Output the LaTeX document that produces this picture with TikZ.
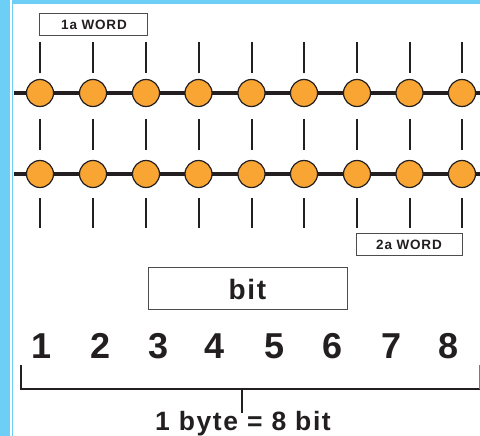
\documentclass[tikz,border=0pt]{standalone}
\usepackage{fontspec}
\setmainfont{Liberation Sans}
\newfontfamily\labfont[LetterSpace=6]{Liberation Sans}
\definecolor{skyb}{HTML}{6DCFF6}
\definecolor{orng}{HTML}{F9A533}
\definecolor{ink}{HTML}{231F20}
\begin{document}
\begin{tikzpicture}[x=1pt,y=-1pt,
  bead/.style={circle,draw=ink,line width=1.2pt,fill=orng,minimum size=27pt,inner sep=0pt},
  wire/.style={draw=ink,line width=3.2pt},
  tick/.style={draw=ink,line width=2pt},
  labbox/.style={draw=ink!80,line width=1pt,fill=white,inner sep=0pt},
  lab/.style={font=\labfont\bfseries\fontsize{13.5}{13.5}\selectfont,text=ink,anchor=base},
  digit/.style={font=\bfseries\fontsize{36}{36}\selectfont,text=ink,anchor=base}]
\useasboundingbox (0,0) rectangle (480,436);
\fill[white] (0,0) rectangle (480,436);
% frame
\fill[skyb] (0,0) rectangle (10,436);
\fill[skyb] (11.8,0) rectangle (12.8,436);
\fill[skyb] (13,0) rectangle (480,3.6);
% rows
\coordinate (L1) at (14,93);
\coordinate (R1) at (480,93);
\coordinate (L2) at (14,174);
\coordinate (R2) at (480,174);
\draw[wire] (L1) -- (R1);
\draw[wire] (L2) -- (R2);
\foreach \i/\x in {1/40,2/93,3/146,4/198.5,5/251.5,6/304,7/357,8/409.5,9/462}{
  \node[bead] (a\i) at (\x,93) {};
  \node[bead] (b\i) at (\x,174) {};
  \draw[tick] (\x,42) -- (\x,73);
  \draw[tick] (\x,119) -- (\x,150);
  \draw[tick] (\x,198) -- (\x,228);
}
% word boxes
\node[labbox,minimum width=108pt,minimum height=22pt] (w1) at (93,25) {};
\node[lab] (w1t) at (94,30) {1a WORD};
\node[labbox,minimum width=106pt,minimum height=22pt] (w2) at (409,244) {};
\node[lab] (w2t) at (409,249) {2a WORD};
% bit box
\node[labbox,minimum width=199pt,minimum height=42pt] (bb) at (247.5,288) {};
\node[font=\labfont\bfseries\fontsize{28}{28}\selectfont,text=ink,anchor=base] (bt) at (247.5,299) {bit};
% digits
\foreach \i/\x in {1/42,2/101,3/159,4/215,5/275,6/333,7/392,8/449}{
  \node[digit] (d\i) at (\x,358) {\i};
}
% bracket
\coordinate (bl) at (20.5,365);
\coordinate (brc) at (480,389);
\coordinate (br) at (479.3,365);
\coordinate (bm) at (242,389);
\coordinate (bmt) at (242,413);
\draw[ink,line width=2pt] (bl) -- (20.5,390.2);
\draw[ink,line width=2.4pt] (19.5,389) -- (brc);
\draw[ink!60,line width=1pt] (br) -- (479.3,389);
\draw[ink,line width=2pt] (bm) -- (bmt);
\node[font=\labfont\bfseries\fontsize{26.5}{26.5}\selectfont,text=ink,anchor=base,inner sep=0pt] (eq) at (243,430) {1 byte\hspace{9pt}= 8 bit};
\end{tikzpicture}
\end{document}
